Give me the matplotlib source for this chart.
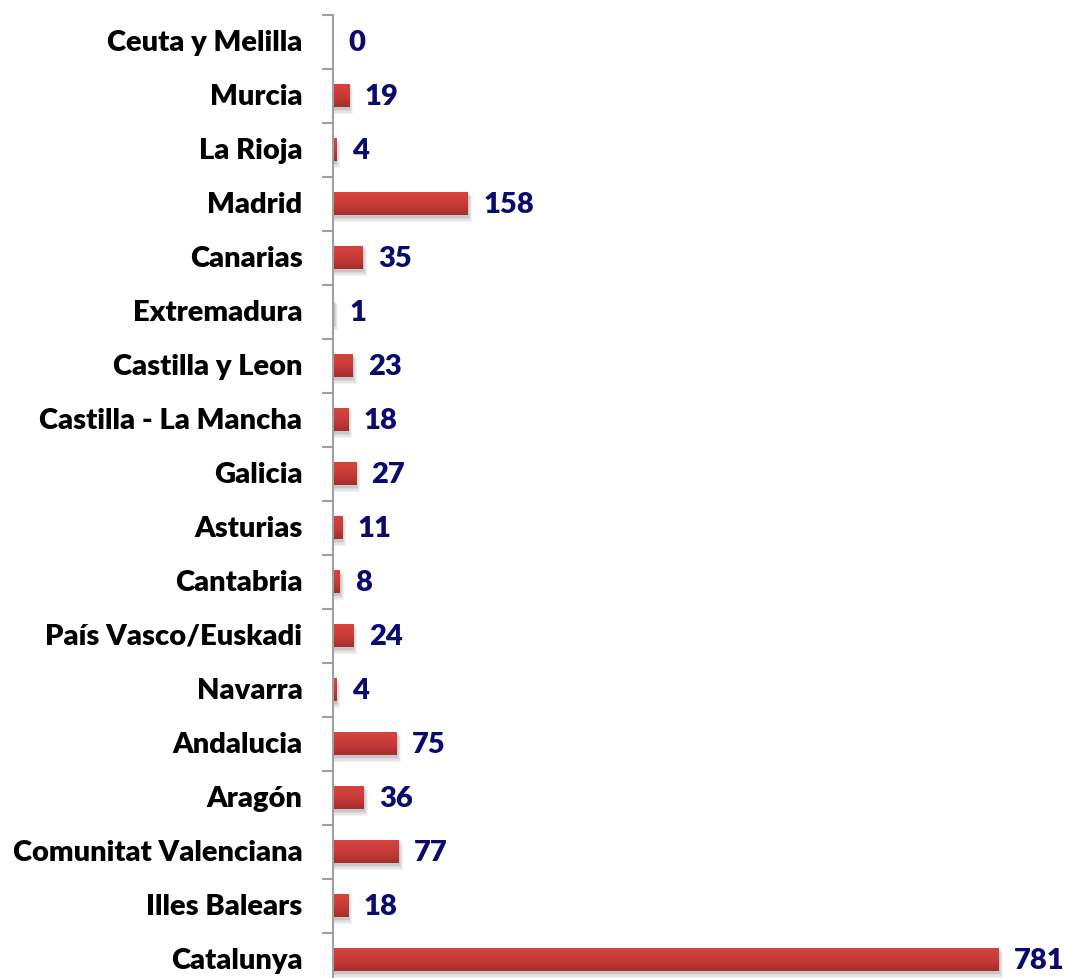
import matplotlib
matplotlib.use("Agg")
import matplotlib.pyplot as plt
import numpy as np
from matplotlib.colors import LinearSegmentedColormap
from matplotlib.patches import Rectangle

regions = ["Ceuta y Melilla", "Murcia", "La Rioja", "Madrid", "Canarias",
           "Extremadura", "Castilla y Leon", "Castilla - La Mancha", "Galicia",
           "Asturias", "Cantabria", "País Vasco/Euskadi", "Navarra", "Andalucia",
           "Aragón", "Comunitat Valenciana", "Illes Balears", "Catalunya"]
values = [0, 19, 4, 158, 35, 1, 23, 18, 27, 11, 8, 24, 4, 75, 36, 77, 18, 781]

W, H = 1065, 979
fig = plt.figure(figsize=(W / 100, H / 100), dpi=100)
left_px, top_px, bottom_px = 333, 16, 988
ax = fig.add_axes([left_px / W, (H - bottom_px) / H, (W - left_px) / W, (bottom_px - top_px) / H])

scale = 666 / 781.0  # px per unit
xmax = (W - left_px) / scale
n = len(regions)

bar_h = 0.42
cmap = LinearSegmentedColormap.from_list("redgrad", ["#D4443F", "#C93B38", "#A52D2C"])
grad = np.linspace(0, 1, 64).reshape(-1, 1)

px_y = 1.0 / 54.0
px_x = 1.0 / scale
FS = 21
FW = "heavy"
for i, v in enumerate(values):
    if v > 0:
        for k, a in enumerate([0.05, 0.05, 0.06, 0.07]):
            off = 4 - k
            ax.add_patch(Rectangle((0, i - bar_h / 2 + (5 - k) * px_y * 0.6), v + off * px_x,
                                   bar_h + off * px_y, facecolor="black", alpha=a,
                                   edgecolor="none", zorder=1))
        ax.imshow(grad, cmap=cmap, aspect="auto", interpolation="bilinear",
                  extent=(0, v, i + bar_h / 2, i - bar_h / 2), zorder=2)
    ax.annotate(str(v), xy=(v, i), xytext=(11, 0), textcoords="offset points",
                ha="left", va="center", fontsize=FS, fontweight=FW,
                color="#0B0B6E", family="Lato", zorder=3)

ax.set_xlim(0, xmax)
ax.set_ylim(n - 0.5, -0.5)

ax.set_yticks(range(n))
ax.set_yticklabels(regions, fontsize=FS, fontweight=FW, family="Lato", color="black",
                   va="center")
ax.tick_params(axis="y", which="major", length=0, pad=22)
ax.set_yticks(np.arange(-0.5, n, 1.0), minor=True)
ax.tick_params(axis="y", which="minor", length=8, width=1.5, color="#A0A0A0", direction="out")
ax.set_xticks([])
for s in ["top", "right", "bottom"]:
    ax.spines[s].set_visible(False)
ax.spines["left"].set_color("#A0A0A0")
ax.spines["left"].set_linewidth(1.5)
ax.patch.set_visible(False)

fig.savefig("out.png", dpi=100)
